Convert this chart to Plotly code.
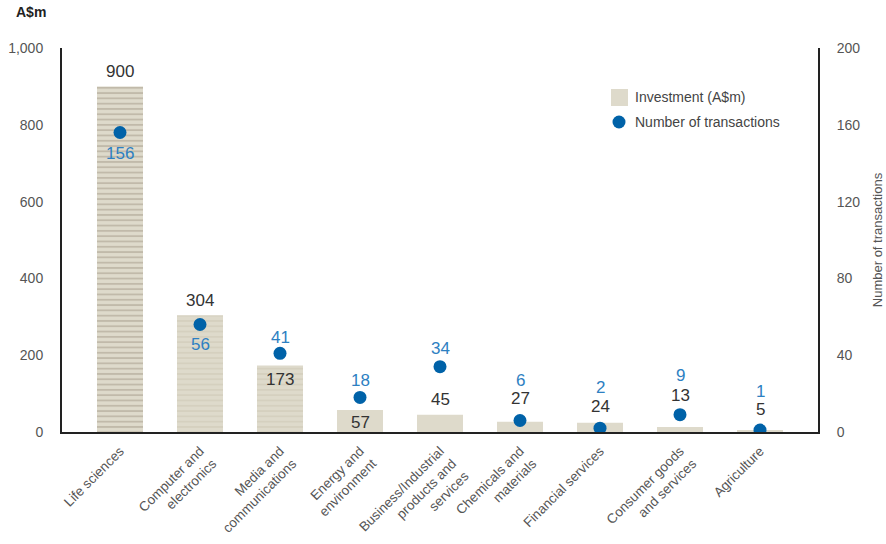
import plotly.graph_objects as go

# Venture investment by sector
sectors = [
    "Life sciences",
    "Computer and<br>electronics",
    "Media and<br>communications",
    "Energy and<br>environment",
    "Business/Industrial<br>products and<br>services",
    "Chemicals and<br>materials",
    "Financial services",
    "Consumer goods<br>and services",
    "Agriculture",
]
investment = [900, 304, 173, 57, 45, 27, 24, 13, 5]
transactions = [156, 56, 41, 18, 34, 6, 2, 9, 1]

# label offsets in pixels (positive = above the value)
inv_label_shift = [15, 15, -14, -12, 15, 23, 16, 32, 21]
txn_label_shift = [-21, -20, 16, 17, 18, 40, 41, 39, 39]

FONT = "Liberation Sans, Arial, sans-serif"
BEIGE = "#DEDACB"
DOT = "#0062A8"
DOT_TXT = "#2D80C2"
INK = "#333333"
GREY = "#555555"

x = list(range(len(sectors)))

stripe_shape = ["-", "-", "-"] + [""] * (len(sectors) - 3)
stripe_color = ["#A39A8A", "#CBC5B4", "#CBC5B4"] + [BEIGE] * (len(sectors) - 3)

fig = go.Figure()
fig.add_trace(go.Bar(
    x=x, y=investment, width=0.575, name="Investment (A$m)",
    marker=dict(color=BEIGE, line=dict(width=0),
                pattern=dict(shape=stripe_shape, fgcolor=stripe_color,
                             size=5.3, solidity=0.35)),
    yaxis="y", showlegend=False, hoverinfo="skip",
))
fig.add_trace(go.Scatter(
    x=x, y=transactions, mode="markers", name="Number of transactions",
    marker=dict(color=DOT, size=13, line=dict(width=0)),
    yaxis="y2", showlegend=False, hoverinfo="skip",
))

# plot area in pixels
L, T, W, H = 62, 48, 756, 384


def px(xp):
    return (xp - L) / W


def py(yp):
    return (T + H - yp) / H


ann = []
for i, (v, s) in enumerate(zip(investment, inv_label_shift)):
    ann.append(dict(x=i, y=v, xref="x", yref="y", text=str(v), showarrow=False,
                    yshift=s, font=dict(family=FONT, size=17, color=INK)))
for i, (v, s) in enumerate(zip(transactions, txn_label_shift)):
    ann.append(dict(x=i, y=v, xref="x", yref="y2", text=str(v), showarrow=False,
                    yshift=s, font=dict(family=FONT, size=17, color=DOT_TXT)))

# left axis unit
ann.append(dict(x=px(31), y=py(12), xref="paper", yref="paper", text="<b>A$m</b>",
                xanchor="center", yanchor="middle", showarrow=False,
                font=dict(family=FONT, size=14, color="#222")))

# legend drawn by hand
ann.append(dict(x=px(633), y=py(97), xref="paper", yref="paper", text="Investment (A$m)",
                xanchor="left", yanchor="middle", showarrow=False,
                font=dict(family=FONT, size=14, color="#444")))
ann.append(dict(x=px(633), y=py(122), xref="paper", yref="paper", text="Number of transactions",
                xanchor="left", yanchor="middle", showarrow=False,
                font=dict(family=FONT, size=14, color="#444")))

shapes = [
    dict(type="rect", xref="paper", yref="paper", x0=px(611), x1=px(628),
         y0=py(106), y1=py(89), fillcolor=BEIGE, line=dict(width=0)),
    dict(type="circle", xref="paper", yref="paper", x0=px(612.5), x1=px(625.5),
         y0=py(128.5), y1=py(115.5), fillcolor=DOT, line=dict(width=0)),
]

fig.update_layout(
    width=886, height=544,
    margin=dict(l=L, r=886 - L - W, t=T, b=544 - T - H, autoexpand=False),
    paper_bgcolor="white", plot_bgcolor="white",
    font=dict(family=FONT, color=GREY),
    xaxis=dict(
        tickmode="array", tickvals=x, ticktext=sectors, tickangle=-45,
        range=[-0.725, len(sectors) - 1 + 0.725], automargin=False,
        showline=True, linecolor="#222", linewidth=2, showgrid=False,
        ticks="outside", ticklen=4, tickcolor="rgba(0,0,0,0)",
        tickfont=dict(family=FONT, size=13.5, color=GREY),
        zeroline=False,
    ),
    yaxis=dict(
        range=[0, 1000], tickvals=[0, 200, 400, 600, 800, 1000], tickformat=",",
        showline=True, linecolor="#222", linewidth=2, showgrid=False, zeroline=False,
        ticks="outside", ticklen=14, tickcolor="rgba(0,0,0,0)", automargin=False,
        tickfont=dict(family=FONT, size=14, color=GREY),
    ),
    yaxis2=dict(
        range=[0, 200], tickvals=[0, 40, 80, 120, 160, 200], overlaying="y", side="right",
        showline=True, linecolor="#222", linewidth=2, showgrid=False, zeroline=False,
        ticks="outside", ticklen=14, tickcolor="rgba(0,0,0,0)", automargin=False,
        tickfont=dict(family=FONT, size=14, color=GREY),
        title=dict(text="Number of transactions", standoff=14,
                   font=dict(family=FONT, size=13, color=GREY)),
    ),
    annotations=ann,
    shapes=shapes,
    showlegend=False,
)

fig.write_html("out.html")
